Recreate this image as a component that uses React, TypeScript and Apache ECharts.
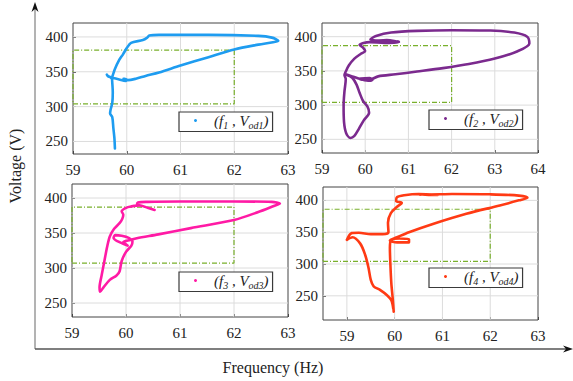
import React, { useEffect, useRef } from 'react';
import * as echarts from 'echarts';

// Panel 1 trajectory (frequency Hz, voltage V)
const f1 = [59.78, 59.77, 59.75, 59.73, 59.69, 59.7, 59.73, 59.74, 59.73, 59.72, 59.65, 59.63, 59.66, 59.75, 59.86, 59.98, 60.0, 59.94, 60.02, 60.17, 60.35, 60.6, 61.0, 61.52, 62.0, 62.45, 62.72, 62.82, 62.7, 62.45, 61.52, 60.6, 60.42, 60.38, 60.3, 60.08, 60.0, 59.93, 59.86, 59.78, 59.73, 59.71];
const v1 = [240, 255, 270, 285, 290, 296, 305, 320, 335, 341, 344, 346, 343, 341, 339, 337, 339, 340, 338, 340, 344, 349, 359, 371, 382, 389, 392.5, 394.5, 399, 401.5, 403, 403, 402, 399, 395.5, 391.5, 384, 375, 367, 354, 343, 341];

// Panel 2 trajectory
const f2 = [59.55, 59.7, 59.9, 60.1, 60.17, 60.1, 59.85, 59.95, 60.15, 60.3, 60.7, 61.2, 61.8, 62.4, 63.0, 63.5, 63.8, 63.75, 63.45, 62.9, 62.0, 61.2, 60.6, 60.25, 60.12, 60.4, 60.78, 60.4, 60.2, 60.5, 60.78, 60.45, 60.1, 59.87, 59.95, 60.0, 59.9, 59.75, 59.62, 59.55, 59.52, 59.55, 59.52, 59.5, 59.51, 59.56, 59.66, 59.75, 59.85, 59.97, 60.09, 60.05, 59.95, 59.87, 59.8, 59.7, 59.58];
const v2 = [345, 342, 338, 335.5, 337, 339.5, 339, 337, 338, 342, 345, 349, 354, 360, 368, 378, 390, 400, 406, 409, 409.5, 408.5, 406, 401, 396, 394, 393, 391.5, 393, 395, 392, 391, 392, 388, 384, 379, 375, 368, 358, 349, 344, 338, 320, 300, 275, 259, 252, 255, 265, 278, 289, 298, 306, 318, 330, 340, 344];

// Panel 3 trajectory
const f3 = [60.53, 60.4, 60.25, 60.1, 60.0, 59.92, 59.95, 59.93, 59.88, 59.78, 59.7, 59.65, 59.6, 59.55, 59.51, 59.52, 59.58, 59.7, 59.82, 59.88, 59.92, 60.0, 60.1, 60.12, 60.05, 59.92, 59.8, 59.77, 59.85, 60.03, 59.95, 60.08, 60.2, 60.6, 61.2, 62.0, 62.45, 62.75, 62.85, 62.7, 62.0, 61.0, 60.4, 60.22, 60.2];
const v3 = [383, 386, 389.5, 388, 386, 381, 376, 370, 364, 356, 345, 330, 310, 290, 272, 266, 272, 283, 289, 295, 310, 323, 332, 338, 343, 346, 347, 343, 338, 332, 337, 340, 342.5, 348, 357, 368.5, 380, 389, 392, 394.5, 395, 395, 394.5, 393.5, 390];

// Panel 4 trajectory
const f4 = [59.98, 59.96, 59.93, 59.91, 59.9, 59.92, 60.1, 60.3, 60.3, 60.05, 59.9, 60.05, 60.3, 60.8, 61.5, 62.2, 62.6, 62.78, 62.6, 62.0, 61.2, 60.95, 60.5, 60.9, 60.5, 60.2, 60.05, 60.03, 60.15, 60.05, 59.92, 59.86, 59.87, 59.75, 59.5, 59.25, 59.1, 59.0, 59.12, 59.28, 59.38, 59.45, 59.5, 59.56, 59.7, 59.84, 59.93, 59.97];
const v4 = [225, 245, 270, 300, 325, 337, 340, 339, 334, 334, 337, 342, 350, 363, 379, 392, 400, 404, 407.5, 409.5, 410, 409.5, 409, 408.5, 410, 408, 405, 399, 396, 390, 380, 365, 350, 347, 347, 349, 348.5, 338, 342, 332, 315, 295, 275, 265, 259, 251, 243, 230];

// Green dash-dot boxes (corners)
const boxF = [[59, 62], [59, 62], [59, 62], [58.5, 62]];
const boxV = [[304, 381], [304, 387], [307, 387], [304, 386]];

// Axes
const xRanges = [[59, 63], [59, 64], [59, 63], [58.5, 63]];
const yRanges = [[232, 420], [230, 420], [230, 420], [212, 421]];
const xTicks = [[59, 60, 61, 62, 63], [59, 60, 61, 62, 63, 64], [59, 60, 61, 62, 63], [59, 60, 61, 62, 63]];
const yTicks = [250, 300, 350, 400];

const seriesNames = ['(f1, Vod1)', '(f2, Vod2)', '(f3, Vod3)', '(f4, Vod4)'];
const colors = ['#1e9cf0', '#7b2a8e', '#ff1aa5', '#ff3a14'];

const grids = [
  { left: 73, top: 23, width: 215, height: 131 },
  { left: 322, top: 23, width: 216, height: 130 },
  { left: 72, top: 184, width: 216, height: 133 },
  { left: 323, top: 187, width: 215, height: 133 },
];
const legendPos = [
  { left: 179, top: 112 },
  { left: 429, top: 110 },
  { left: 179, top: 272 },
  { left: 429, top: 268 },
];

const SERIF = 'Liberation Serif';

export default function App() {
  const ref = useRef<HTMLDivElement>(null);
  useEffect(() => {
    if (!ref.current) return;
    const chart = echarts.init(ref.current, undefined, { renderer: 'svg' });
    const fs = [f1, f2, f3, f4];
    const vs = [v1, v2, v3, v4];

    const series: any[] = [];
    for (let i = 0; i < 4; i++) {
      const [xmin, xmax] = xRanges[i];
      const [ymin, ymax] = yRanges[i];
      const gridStyle = { color: '#dcdcdc', width: 1, type: 'solid' };
      xTicks[i]
        .filter((x) => x > xmin && x < xmax)
        .forEach((x) =>
          series.push({
            type: 'line', name: `gx${i}-${x}`, xAxisIndex: i, yAxisIndex: i, silent: true, z: 0,
            symbol: 'none', lineStyle: gridStyle, data: [[x, ymin], [x, ymax]],
          })
        );
      yTicks.forEach((y) =>
        series.push({
          type: 'line', name: `gy${i}-${y}`, xAxisIndex: i, yAxisIndex: i, silent: true, z: 0,
          symbol: 'none', lineStyle: gridStyle, data: [[xmin, y], [xmax, y]],
        })
      );
      const [x0, x1] = boxF[i];
      const [y0, y1] = boxV[i];
      series.push({
        type: 'line',
        name: 'box' + i,
        xAxisIndex: i,
        yAxisIndex: i,
        data: [[x0, y0], [x1, y0], [x1, y1], [x0, y1], [x0, y0]],
        symbol: 'none',
        silent: true,
        z: 1,
        lineStyle: { color: '#79b02c', width: 1.2, type: [5, 2, 1, 2] },
      });
      series.push({
        type: 'line',
        name: seriesNames[i],
        xAxisIndex: i,
        yAxisIndex: i,
        data: fs[i].map((f, j) => [f, vs[i][j]]),
        symbol: 'none',
        smooth: 0.3,
        z: 3,
        color: colors[i],
        lineStyle: { color: colors[i], width: 2.6, cap: 'round', join: 'round' },
        itemStyle: { color: colors[i] },
      });
    }

    const legends = seriesNames.map((n, i) => ({
      data: [n],
      left: legendPos[i].left,
      top: legendPos[i].top,
      orient: 'horizontal',
      selectedMode: false,
      icon: 'circle',
      itemWidth: 3,
      itemHeight: 3,
      backgroundColor: '#fff',
      borderColor: '#3a3a3a',
      borderWidth: 1.2,
      borderRadius: 0,
      padding: [1, 4, 1, 15],
      formatter: () =>
        `{g|}{t|(}{i|f}{s|${i + 1}}{t| , }{i|V}{s|od${i + 1}}{t|)}`,
      textStyle: {
        fontFamily: SERIF,
        color: '#222',
        rich: {
          g: { width: 12, lineHeight: 20 },
          t: { fontFamily: SERIF, fontSize: 15, fontStyle: 'italic', color: '#222', lineHeight: 20 },
          i: { fontFamily: SERIF, fontSize: 15, fontStyle: 'italic', color: '#222', lineHeight: 20 },
          s: { fontFamily: SERIF, fontSize: 10, fontStyle: 'italic', color: '#222', lineHeight: 10, verticalAlign: 'bottom' },
        },
      },
    }));

    const option: any = {
      animation: false,
      backgroundColor: '#fff',
      textStyle: { fontFamily: SERIF },
      grid: grids.map((g) => ({ ...g, show: true, borderColor: '#454545', borderWidth: 1, backgroundColor: 'transparent', containLabel: false })),
      legend: legends,
      xAxis: xRanges.map((r, i) => ({
        type: 'value',
        gridIndex: i,
        min: r[0],
        max: r[1],
        axisLine: { show: false },
        axisTick: { show: true, inside: true, length: 3, customValues: xTicks[i], lineStyle: { color: '#454545' } },
        axisLabel: { customValues: xTicks[i], fontFamily: SERIF, fontSize: 15, color: '#222', margin: 8 },
        splitLine: { show: false },
      })),
      yAxis: yRanges.map((r, i) => ({
        type: 'value',
        gridIndex: i,
        min: r[0],
        max: r[1],
        axisLine: { show: false },
        axisTick: { show: true, inside: true, length: 3, customValues: yTicks, lineStyle: { color: '#454545' } },
        axisLabel: { customValues: yTicks, fontFamily: SERIF, fontSize: 15, color: '#222', margin: 5 },
        splitLine: { show: false },
      })),
      series,
      graphic: [
        { type: 'line', shape: { x1: 35, y1: 349, x2: 35, y2: 8 }, style: { stroke: '#8a8a8a', lineWidth: 1.3 } },
        { type: 'polygon', shape: { points: [[35, 2], [31.5, 12], [35, 9], [38.5, 12]] }, style: { fill: '#111' } },
        { type: 'line', shape: { x1: 35, y1: 349, x2: 566, y2: 349 }, style: { stroke: '#555', lineWidth: 1.3 } },
        { type: 'polygon', shape: { points: [[573, 349], [563, 345.5], [566, 349], [563, 352.5]] }, style: { fill: '#111' } },
        {
          type: 'text',
          x: 15,
          y: 166,
          rotation: Math.PI / 2,
          style: { text: 'Voltage (V)', fontFamily: SERIF, fontSize: 16, fill: '#222', align: 'center', verticalAlign: 'middle' },
        },
        {
          type: 'text',
          x: 273,
          y: 367,
          style: { text: 'Frequency (Hz)', fontFamily: SERIF, fontSize: 16, fill: '#222', align: 'center', verticalAlign: 'middle' },
        },
      ],
    };
    chart.setOption(option);
    return () => chart.dispose();
  }, []);
  return <div ref={ref} style={{ position: 'fixed', left: 0, top: 0, width: 573, height: 381 }} />;
}
